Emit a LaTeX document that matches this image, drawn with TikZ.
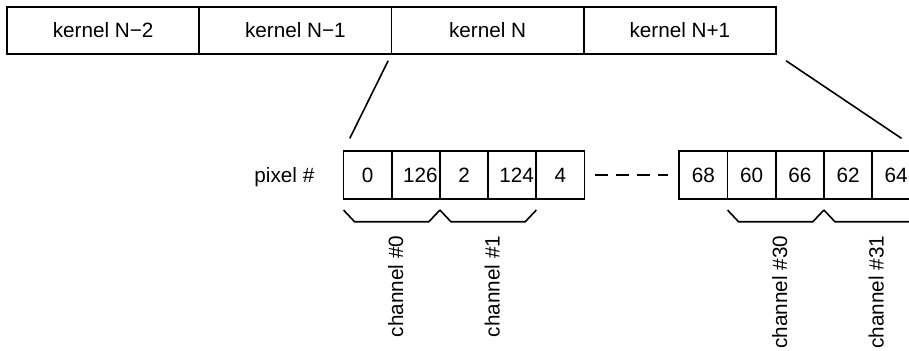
\documentclass[tikz,border=0pt]{standalone}
\usepackage{fontspec}
\setmainfont{Liberation Sans}
\usetikzlibrary{calc}
\tikzset{
  kernelbox/.style={draw, line width=0.9pt, minimum width=96.1pt, minimum height=23.5pt, inner sep=0pt, outer sep=0pt},
  pixbox/.style={draw, line width=0.9pt, minimum width=24.1pt, minimum height=24pt, inner sep=0pt, outer sep=0pt},
  chlabel/.style={rotate=90, anchor=east, inner sep=0pt},
}
\newcommand{\chbrace}[2]{%
  \draw ([yshift=-5.5pt]#1.south west) -- ([shift={(5.5pt,-11.35pt)}]#1.south west)
    -- ([shift={(-5.5pt,-11.35pt)}]#2.south east) -- ([yshift=-5.5pt]#2.south east);}
\begin{document}
\begin{tikzpicture}[x=0.5pt,y=-0.5pt,line width=0.8pt,font=\fontsize{10.35}{12}\selectfont]
\useasboundingbox (0,0) rectangle (909,350);
\clip (0,0) rectangle (909,350);

% kernels
\node[kernelbox] (k1) at (103.1,30.5) {kernel N−2};
\node[kernelbox] (k2) at (295.4,30.5) {kernel N−1};
\node[kernelbox] (k3) at (487.6,30.5) {kernel N};
\node[kernelbox] (k4) at (679.9,30.5) {kernel N+1};

% pixels
\node[pixbox] (p1) at (367.6,175) {0};
\node[pixbox] (p2) at (415.8,175) {\hspace*{4.5pt}126};
\node[pixbox] (p3) at (464.0,175) {2};
\node[pixbox] (p4) at (512.2,175) {\hspace*{4.5pt}124};
\node[pixbox] (p5) at (560.3,175) {4};

\node[pixbox] (q1) at (703.4,175) {68};
\node[pixbox] (q2) at (751.6,175) {60};
\node[pixbox] (q3) at (799.8,175) {66};
\node[pixbox] (q4) at (848.0,175) {62};
\node[pixbox] (q5) at (896.2,175) {64};

\node[anchor=base east, inner sep=0pt] (pixlbl) at ([xshift=-14.2pt]p1.base west) {pixel \#};

\draw[dash pattern=on 6.5pt off 4pt, shorten <=5.3pt, shorten >=5.6pt] (p5.east) -- (q1.west);

% zoom lines
\draw ($(k3.south west)!0.07!(p1.north west)$) -- ($(k3.south west)!0.87!(p1.north west)$);
\draw ($(k4.south east)!0.07!(q5.north east)$) -- ($(k4.south east)!0.87!(q5.north east)$);

% channels
\chbrace{p1}{p2}
\chbrace{p3}{p4}
\chbrace{q2}{q3}
\chbrace{q4}{q5}

\node[chlabel] (c0) at ([shift={(2pt,-18pt)}]p1.south east) {channel \#0};
\node[chlabel] (c1) at ([shift={(2pt,-18pt)}]p3.south east) {channel \#1};
\node[chlabel] (c30) at ([shift={(2pt,-18pt)}]q2.south east) {channel \#30};
\node[chlabel] (c31) at ([shift={(2pt,-18pt)}]q4.south east) {channel \#31};
\end{tikzpicture}
\end{document}
